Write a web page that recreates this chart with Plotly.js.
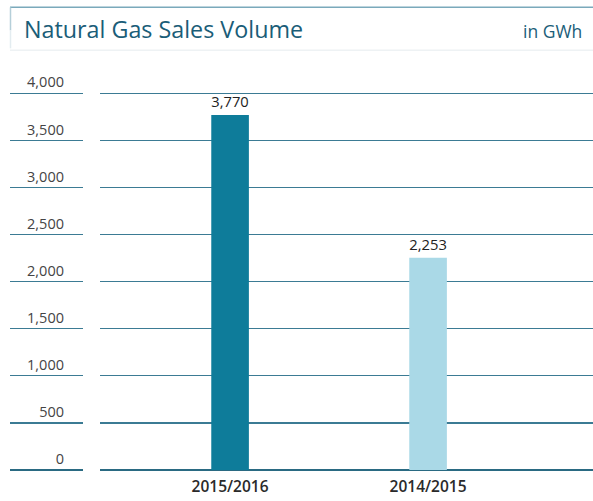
<!DOCTYPE html>
<html>
<head>
<meta charset="utf-8">
<script src="https://cdn.plot.ly/plotly-3.0.1.min.js"></script>
<style>html,body{margin:0;padding:0;background:#fff;}#chart{width:593px;height:501px;}</style>
</head>
<body>
<div id="chart"></div>
<script>
const categories = ["2015/2016", "2014/2015"];
const salesGWh = [3770, 2253];
const barColors = ["#0e7c9a", "#aad9e7"];
const yTicks = [0, 500, 1000, 1500, 2000, 2500, 3000, 3500, 4000];

const W = 593, H = 501;
const mL = 10, mR = 0, mT = 90.7, mB = 31;
const pw = W - mL - mR, ph = H - mT - mB;
const px2x = p => (p - mL) / pw;
const px2y = p => (H - mB - p) / ph;

const gridCol = "#3b7b94";
const yRange = [0, 4025];

const traces = [
  {
    type: "bar",
    x: categories,
    y: salesGWh,
    marker: {color: barColors},
    width: 0.19,
    texttemplate: "%{y:,}",
    textposition: "outside",
    cliponaxis: false,
    textfont: {family: "Open Sans, sans-serif", size: 15.5, color: "#222"},
    hoverinfo: "skip"
  },
  {
    type: "scatter",
    x: [],
    y: [],
    xaxis: "x2",
    yaxis: "y2",
    hoverinfo: "skip",
    showlegend: false
  }
];

const layout = {
  width: W, height: H,
  margin: {l: mL, r: mR, t: mT, b: mB},
  paper_bgcolor: "#fff",
  plot_bgcolor: "rgba(0,0,0,0)",
  showlegend: false,
  font: {family: "Open Sans, sans-serif"},
  title: {
    text: "Natural Gas Sales Volume",
    font: {family: "Open Sans, sans-serif", size: 23.3, color: "#1a5d78"},
    x: 24 / W, xref: "container", xanchor: "left",
    y: 1 - 30 / H, yref: "container", yanchor: "middle"
  },
  xaxis: {
    type: "category",
    domain: [px2x(100), 1],
    range: [-0.657, 1.833],
    showgrid: false, zeroline: false, showline: false,
    ticks: "",
    tickfont: {family: "Open Sans, sans-serif", size: 15.5, color: "#2a2a2a", weight: 600},
    ticklabelstandoff: 5,
    fixedrange: true
  },
  yaxis: {
    range: yRange,
    tickvals: yTicks,
    tickformat: ",",
    showgrid: true, gridcolor: gridCol, gridwidth: 1.2,
    zeroline: true, zerolinecolor: "#2a6a82", zerolinewidth: 1.2,
    showline: false, ticks: "",
    tickfont: {family: "Open Sans, sans-serif", size: 14.5, color: "#444"},
    ticklabelstandoff: 35,
    ticklabelshift: -11,
    fixedrange: true
  },
  xaxis2: {
    domain: [px2x(10), px2x(83)],
    anchor: "y2",
    range: [0, 1],
    visible: false,
    fixedrange: true
  },
  yaxis2: {
    anchor: "x2",
    range: yRange,
    tickvals: yTicks,
    showgrid: true, gridcolor: gridCol, gridwidth: 1.2,
    zeroline: true, zerolinecolor: "#2a6a82", zerolinewidth: 1.2,
    showticklabels: false, ticks: "", showline: false,
    fixedrange: true
  },
  annotations: [
    {
      text: "in GWh",
      xref: "paper", yref: "paper",
      x: px2x(584), y: px2y(31),
      xanchor: "right", yanchor: "middle",
      showarrow: false,
      font: {family: "Open Sans, sans-serif", size: 17.5, color: "#1a5d78"}
    }
  ],
  shapes: [
    {type: "line", xref: "paper", yref: "paper",
     x0: px2x(10), x1: px2x(593), y0: px2y(7), y1: px2y(7),
     line: {color: "#7aa9bb", width: 1.5}},
    {type: "line", xref: "paper", yref: "paper",
     x0: px2x(10.5), x1: px2x(10.5), y0: px2y(7), y1: px2y(30),
     line: {color: "#b5cfd9", width: 1.5}},
    {type: "line", xref: "paper", yref: "paper",
     x0: px2x(10.5), x1: px2x(10.5), y0: px2y(30), y1: px2y(48),
     line: {color: "#e3ecf0", width: 1.5}},
    {type: "line", xref: "paper", yref: "paper",
     x0: px2x(10), x1: px2x(593), y0: px2y(50), y1: px2y(50),
     line: {color: "#eef2f4", width: 1.5}}
  ]
};

Plotly.newPlot("chart", traces, layout, {displayModeBar: false, staticPlot: true});
</script>
</body>
</html>
